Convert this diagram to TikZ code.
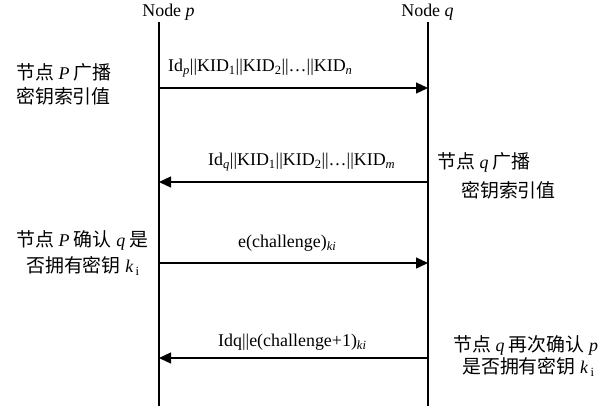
\documentclass[tikz,border=0pt]{standalone}
\usepackage{fontspec}
\setmainfont{Liberation Serif}
\newfontfamily\cjk[Scale=1.055]{Noto Sans CJK SC}
\usetikzlibrary{arrows.meta}
\begin{document}
\begin{tikzpicture}[x=1bp,y=-1bp,
  txt/.style={inner sep=0pt,font=\fontsize{18}{21}\selectfont},
  life/.style={line width=1.4bp},
  msg/.style={line width=1.3bp,-{Triangle[length=12bp,width=11bp]}}]
\useasboundingbox (0,0) rectangle (608,408);
% headers
\node[txt] (np) at (168.5,12) {Node \textit{p}};
\node[txt] (nq) at (427.5,12) {Node \textit{q}};
% lifelines
\coordinate (pt) at (159,22); \coordinate (pb) at (159,406);
\coordinate (qt) at (428,22); \coordinate (qb) at (428,406);
\draw[life] (pt) -- (pb);
\draw[life] (qt) -- (qb);
% message endpoints
\coordinate (p1) at (159,88);  \coordinate (q1) at (428,88);
\coordinate (p2) at (159,182); \coordinate (q2) at (428,182);
\coordinate (p3) at (159,263); \coordinate (q3) at (428,263);
\coordinate (p4) at (159,358); \coordinate (q4) at (428,358);
\draw[msg] (p1) -- (q1);
\draw[msg] (q2) -- (p2);
\draw[msg] (p3) -- (q3);
\draw[msg] (q4) -- (p4);
% message labels
\node[txt,anchor=west] (m1) at (168,68) {Id\textsubscript{\textit{p}}||KID\textsubscript{1}||KID\textsubscript{2}||…||KID\textsubscript{\textit{n}}};
\node[txt,anchor=west] (m2) at (208,162) {Id\textsubscript{\textit{q}}||KID\textsubscript{1}||KID\textsubscript{2}||…||KID\textsubscript{\textit{m}}};
\node[txt,anchor=west] (m3) at (238,243) {e(challenge)\textsubscript{\textit{ki}}};
\node[txt,anchor=west] (m4) at (218,342) {Idq||e(challenge+1)\textsubscript{\textit{ki}}};
% side notes
\node[txt,anchor=west] (a1) at (16,72) {{\cjk 节点} \textit{P} {\cjk 广播}};
\node[txt,anchor=west] (a2) at (16,96) {\cjk 密钥索引值};
\node[txt,anchor=west] (b1) at (437,162) {{\cjk 节点} \textit{q} {\cjk 广播}};
\node[txt,anchor=west] (b2) at (461,190) {\cjk 密钥索引值};
\node[txt,anchor=west] (c1) at (16,240) {{\cjk 节点} \textit{P} {\cjk 确认} \textit{q} {\cjk 是}};
\node[txt,anchor=west] (c2) at (26,266) {{\cjk 否拥有密钥} \textit{k}\textsubscript{\,i}};
\node[txt,anchor=west] (d1) at (453,345) {{\cjk 节点} \textit{q} {\cjk 再次确认} \textit{p}};
\node[txt,anchor=west] (d2) at (462,367) {{\cjk 是否拥有密钥} \textit{k}\textsubscript{\,i}};
\end{tikzpicture}
\end{document}
